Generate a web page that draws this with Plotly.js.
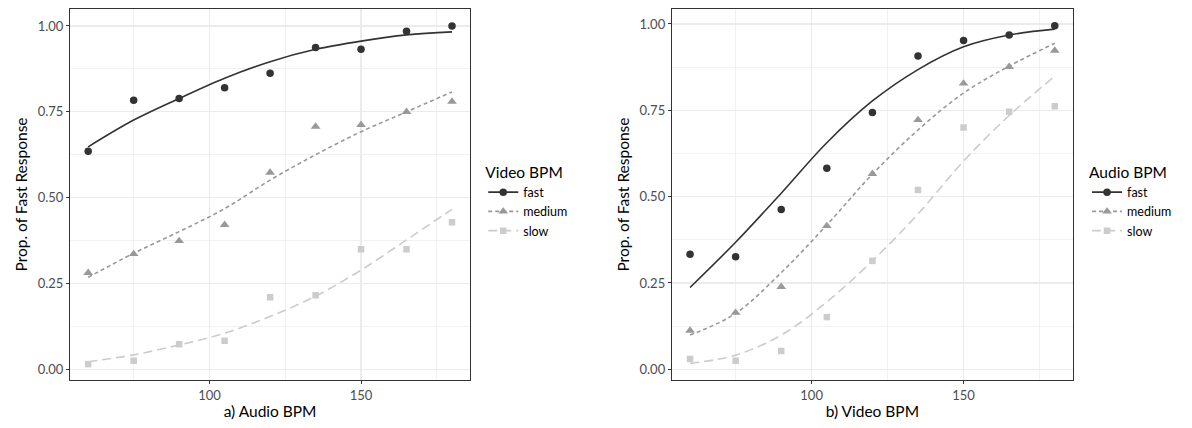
<!DOCTYPE html>
<html>
<head>
<meta charset="utf-8">
<script src="https://cdn.plot.ly/plotly-3.0.1.min.js"></script>
<style>
  html, body { margin: 0; padding: 0; background: #ffffff; }
  #chart { width: 1192px; height: 428px; }
</style>
</head>
<body>
<div id="chart"></div>
<script>
// ---- data ----
const bpm = [60, 75, 90, 105, 120, 135, 150, 165, 180];
const seriesNames = ["fast", "medium", "slow"];

// Panel a) x = Audio BPM, grouped by Video BPM
const audioFastPts   = [0.635, 0.784, 0.789, 0.820, 0.862, 0.937, 0.932, 0.985, 1.000];
const audioMediumPts = [0.281, 0.336, 0.374, 0.421, 0.573, 0.707, 0.712, 0.750, 0.780];
const audioSlowPts   = [0.015, 0.025, 0.073, 0.083, 0.210, 0.216, 0.350, 0.350, 0.428];
const audioFastFit   = [0.648, 0.726, 0.789, 0.848, 0.896, 0.932, 0.956, 0.974, 0.983];
const audioMediumFit = [0.268, 0.338, 0.401, 0.468, 0.551, 0.625, 0.692, 0.750, 0.808];
const audioSlowFit   = [0.022, 0.042, 0.071, 0.105, 0.154, 0.213, 0.289, 0.377, 0.466];

// Panel b) x = Video BPM, grouped by Audio BPM
const videoFastPts   = [0.333, 0.326, 0.463, 0.582, 0.744, 0.907, 0.952, 0.968, 0.995];
const videoMediumPts = [0.112, 0.164, 0.239, 0.415, 0.566, 0.722, 0.828, 0.876, 0.923];
const videoSlowPts   = [0.030, 0.025, 0.053, 0.151, 0.314, 0.519, 0.700, 0.746, 0.762];
const videoFastFit   = [0.237, 0.368, 0.510, 0.656, 0.777, 0.868, 0.934, 0.968, 0.985];
const videoMediumFit = [0.099, 0.162, 0.280, 0.418, 0.565, 0.693, 0.800, 0.878, 0.944];
const videoSlowFit   = [0.017, 0.041, 0.099, 0.195, 0.314, 0.450, 0.603, 0.735, 0.849];

const yTickVals = [0, 0.25, 0.5, 0.75, 1];
const yTickText = ["0.00", "0.25", "0.50", "0.75", "1.00"];
const xTickVals = [100, 150];
const xTickText = ["100", "150"];

// ---- styles ----
const colors  = ["#333333", "#999999", "#cccccc"];
const symbols = ["circle", "triangle-up", "square"];
const msizes  = [7.5, 8.5, 6.5];
const dashes  = ["solid", "4px,3px", "9px,5px"];
const FONT = "Lato, 'Open Sans', sans-serif";

function panelTraces(pts, fits, xa, ya, legendId) {
  const tr = [];
  for (let i = 0; i < 3; i++) {
    tr.push({
      x: bpm, y: fits[i], xaxis: xa, yaxis: ya, type: "scatter", mode: "lines",
      line: {color: colors[i], width: 1.6, dash: dashes[i], shape: "spline", smoothing: 1},
      showlegend: false, hoverinfo: "skip"
    });
    tr.push({
      x: bpm, y: pts[i], xaxis: xa, yaxis: ya, type: "scatter", mode: "markers",
      marker: {color: colors[i], symbol: symbols[i], size: msizes[i], line: {width: 0}},
      showlegend: false
    });
  }
  for (let i = 0; i < 3; i++) {
    tr.push({
      x: [null], y: [null], xaxis: xa, yaxis: ya, type: "scatter", mode: "lines+markers",
      name: seriesNames[i], legend: legendId,
      line: {color: colors[i], width: 1.6, dash: dashes[i]},
      marker: {color: colors[i], symbol: symbols[i], size: msizes[i]},
      showlegend: true
    });
  }
  return tr;
}

const traces = [].concat(
  panelTraces([audioFastPts, audioMediumPts, audioSlowPts],
              [audioFastFit, audioMediumFit, audioSlowFit], "x", "y", "legend"),
  panelTraces([videoFastPts, videoMediumPts, videoSlowPts],
              [videoFastFit, videoMediumFit, videoSlowFit], "x2", "y2", "legend2")
);

function xAxis(domain, title, anchor) {
  return {
    domain: domain, anchor: anchor, range: [54, 186],
    tickmode: "array", tickvals: xTickVals, ticktext: xTickText,
    ticks: "outside", ticklen: 3, tickwidth: 1, tickcolor: "#333333",
    tickfont: {family: FONT, size: 13, color: "#4d4d4d"},
    showgrid: true, gridcolor: "#ebebeb", gridwidth: 1.1,
    minor: {tickmode: "array", tickvals: [75, 125, 175], showgrid: true, gridcolor: "#ebebeb", gridwidth: 0.7, ticks: ""},
    zeroline: false, showline: true, mirror: true, linecolor: "#333333", linewidth: 1,
    title: {text: title, font: {family: FONT, size: 15.5, color: "#000000"}, standoff: 4},
    fixedrange: true
  };
}
function yAxis(range, anchor) {
  return {
    domain: [0, 1], anchor: anchor, range: range,
    tickmode: "array", tickvals: yTickVals, ticktext: yTickText,
    ticks: "outside", ticklen: 3, tickwidth: 1, tickcolor: "#333333",
    tickfont: {family: FONT, size: 13, color: "#4d4d4d"},
    showgrid: true, gridcolor: "#ebebeb", gridwidth: 1.1,
    minor: {tickmode: "array", tickvals: [0.125, 0.375, 0.625, 0.875], showgrid: true, gridcolor: "#ebebeb", gridwidth: 0.7, ticks: ""},
    zeroline: false, showline: true, mirror: true, linecolor: "#333333", linewidth: 1,
    title: {text: "Prop. of Fast Response", font: {family: FONT, size: 15.5, color: "#000000"}, standoff: 6},
    fixedrange: true
  };
}

function legendCfg(x, title) {
  return {
    x: x, y: 0.6, xanchor: "left", yanchor: "top",
    bgcolor: "rgba(0,0,0,0)", borderwidth: 0,
    itemwidth: 30,
    title: {text: title, side: "top", font: {family: FONT, size: 15.5, color: "#000000"}},
    font: {family: FONT, size: 12.5, color: "#000000"},
    traceorder: "normal"
  };
}

const layout = {
  width: 1192, height: 428,
  margin: {l: 70, r: 119, t: 9, b: 48},
  paper_bgcolor: "#ffffff", plot_bgcolor: "#ffffff",
  font: {family: FONT},
  showlegend: true,
  xaxis: xAxis([0, 0.399], "a) Audio BPM", "y"),
  yaxis: yAxis([-0.0312, 1.0495], "x"),
  xaxis2: xAxis([0.6, 1], "b) Video BPM", "y2"),
  yaxis2: yAxis([-0.031, 1.0434], "x2"),
  legend: legendCfg(0.412, "Video BPM"),
  legend2: legendCfg(1.014, "Audio BPM")
};

Plotly.newPlot("chart", traces, layout, {staticPlot: true, displayModeBar: false});
</script>
</body>
</html>
